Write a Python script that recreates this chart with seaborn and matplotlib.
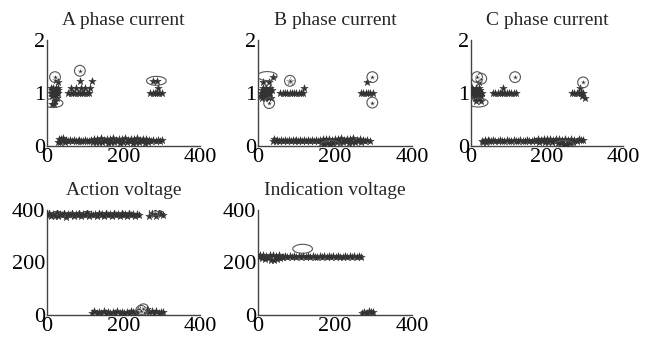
import numpy as np
import pandas as pd
import matplotlib
matplotlib.use("Agg")
import matplotlib.pyplot as plt
from matplotlib.path import Path
import seaborn as sns

# ---------------------------------------------------------------------------
# data (sample index vs. value)
# A phase current
a_x = [10, 14, 18, 22, 26, 30, 12, 20, 28, 10, 16, 24, 30, 14, 22, 18, 26, 20, 24, 28, 14, 18,
       56, 62, 68, 74, 80, 86, 92, 98, 104, 110, 64, 76, 88, 100, 112, 86, 117,
       270, 276, 282, 288, 294, 300, 290, 276, 288]
a_y = [1.0, 1.0, 1.0, 1.0, 1.0, 1.0, 1.05, 1.05, 1.05, 1.1, 1.1, 1.1, 1.1, 0.95, 0.95, 0.9, 0.9,
       0.85, 1.25, 1.2, 0.8, 0.8,
       1.0, 1.0, 1.0, 1.0, 1.0, 1.0, 1.0, 1.0, 1.0, 1.0, 1.1, 1.1, 1.1, 1.1, 1.1, 1.22, 1.22,
       1.0, 1.0, 1.0, 1.0, 1.0, 1.0, 1.1, 1.22, 1.22]
a_band_x = [28, 31, 34, 37, 40, 43, 46, 50, 55, 60, 65, 70, 75, 80, 85, 90, 95, 100, 105, 110,
            115, 120, 124, 128, 132, 136, 140, 144, 148, 152, 156, 160, 164, 168, 172, 176, 180,
            184, 188, 192, 196, 200, 204, 208, 212, 216, 220, 224, 228, 232, 236, 240, 244, 248,
            252, 256, 260, 264, 268, 272, 278, 284, 290, 296, 302]
a_band_y = [0.08, 0.14, 0.07, 0.13, 0.09, 0.15, 0.08, 0.12, 0.09, 0.11, 0.1, 0.11, 0.09, 0.1,
            0.11, 0.1, 0.09, 0.11, 0.1, 0.1, 0.12, 0.08, 0.14, 0.07, 0.13, 0.08, 0.15, 0.07, 0.12,
            0.09, 0.14, 0.06, 0.13, 0.08, 0.15, 0.07, 0.12, 0.09, 0.14, 0.06, 0.13, 0.08, 0.15,
            0.07, 0.12, 0.09, 0.14, 0.06, 0.13, 0.08, 0.15, 0.07, 0.12, 0.09, 0.14, 0.06, 0.13,
            0.08, 0.12, 0.1, 0.11, 0.09, 0.11, 0.1, 0.12]
a_ring_x = [21, 86]
a_ring_y = [1.3, 1.42]
a_oval_x = [16, 286]
a_oval_y = [0.81, 1.23]

# B phase current
b_x = [8, 14, 20, 26, 32, 10, 18, 28, 36, 8, 16, 24, 12, 22, 30, 10, 18, 26, 34, 14, 28, 38,
       58, 64, 70, 76, 82, 88, 94, 100, 106, 112, 118, 83, 119,
       268, 274, 280, 286, 292, 298, 282]
b_y = [1.0, 1.0, 1.0, 1.0, 1.0, 1.05, 1.05, 1.05, 1.05, 0.95, 0.95, 0.95, 1.1, 1.1, 1.1, 0.9,
       0.9, 0.9, 0.9, 1.2, 1.2, 1.3, 1.0, 1.0, 1.0, 1.0, 1.0, 1.0, 1.0, 1.0, 1.0, 1.0, 1.0, 1.23,
       1.1, 1.0, 1.0, 1.0, 1.0, 1.0, 1.0, 1.2]
b_band_x = [38, 42, 46, 50, 55, 60, 65, 70, 75, 80, 85, 90, 95, 100, 105, 110, 115, 120, 125,
            130, 135, 140, 145, 150, 155, 160, 164, 168, 172, 176, 180, 184, 188, 192, 196, 200,
            204, 208, 212, 216, 220, 224, 228, 232, 236, 240, 244, 248, 252, 256, 260, 264, 268,
            272, 278, 284, 290]
b_band_y = [0.1, 0.13, 0.09, 0.12, 0.1, 0.11, 0.09, 0.12, 0.1, 0.11, 0.1, 0.12, 0.09, 0.11,
            0.1, 0.12, 0.09, 0.11, 0.1, 0.12, 0.09, 0.11, 0.1, 0.12, 0.09, 0.11, 0.06, 0.14, 0.04,
            0.13, 0.05, 0.14, 0.03, 0.12, 0.05, 0.14, 0.07, 0.13, 0.08, 0.15, 0.07, 0.12, 0.09,
            0.14, 0.06, 0.13, 0.08, 0.15, 0.07, 0.12, 0.09, 0.14, 0.08, 0.12, 0.1, 0.11, 0.1]
b_ring_x = [83, 29, 297, 297]
b_ring_y = [1.23, 0.81, 1.3, 0.82]
b_oval_x = [24, 188]
b_oval_y = [1.32, 0.02]

# C phase current
c_x = [4, 10, 16, 22, 28, 6, 14, 24, 4, 12, 20, 8, 18, 26, 10, 22, 14, 26, 20,
       58, 64, 70, 76, 82, 88, 94, 100, 106, 112, 118, 84,
       266, 272, 278, 284, 290, 296, 288, 292, 300]
c_y = [1.0, 1.0, 1.0, 1.0, 1.0, 1.05, 1.05, 1.05, 1.1, 1.1, 1.1, 0.95, 0.95, 0.95, 0.9, 0.9,
       0.85, 0.85, 1.2, 1.0, 1.0, 1.0, 1.0, 1.0, 1.0, 1.0, 1.0, 1.0, 1.0, 1.0, 1.1,
       1.0, 1.0, 1.0, 1.0, 1.0, 1.0, 1.1, 0.95, 0.9]
c_band_x = [28, 32, 36, 40, 44, 48, 52, 58, 64, 70, 76, 82, 88, 94, 100, 106, 112, 118, 124,
            130, 136, 142, 148, 154, 160, 166, 172, 176, 180, 184, 188, 192, 196, 200, 204, 208,
            212, 216, 220, 224, 228, 232, 236, 240, 244, 248, 252, 256, 260, 264, 268, 272, 278,
            284, 290, 296]
c_band_y = [0.1, 0.08, 0.12, 0.07, 0.11, 0.09, 0.1, 0.11, 0.1, 0.09, 0.11, 0.1, 0.1, 0.11,
            0.09, 0.1, 0.11, 0.1, 0.1, 0.11, 0.09, 0.1, 0.11, 0.1, 0.09, 0.11, 0.1, 0.14, 0.07,
            0.12, 0.09, 0.14, 0.07, 0.13, 0.08, 0.14, 0.07, 0.12, 0.09, 0.14, 0.06, 0.13, 0.05,
            0.12, 0.04, 0.14, 0.03, 0.12, 0.05, 0.13, 0.08, 0.12, 0.1, 0.13, 0.11, 0.12]
c_ring_x = [16, 27, 116, 295]
c_ring_y = [1.3, 1.27, 1.3, 1.2]
c_oval_x = [19, 245]
c_oval_y = [0.82, 0.02]

# Action voltage
d_x = [0, 5, 10, 15, 20, 25, 30, 35, 40, 45, 50, 55, 60, 65, 70, 75, 80, 85, 90, 95, 100, 105,
       110, 115, 120, 125, 130, 135, 140, 145, 150, 155, 160, 165, 170, 175, 180, 185, 190,
       195, 200, 205, 210, 215, 220, 225, 230, 235, 240, 268, 274, 280, 286, 292, 298, 304,
       118, 124, 130, 136, 142, 148, 154, 160, 166, 172, 178, 184, 190, 196, 202, 208, 214,
       220, 226, 232, 238, 244, 250, 256, 262, 268, 274, 280, 286, 292, 298, 304]
d_y = [380, 390, 375, 385, 378, 392, 376, 386, 380, 388, 374, 384, 381, 390, 376, 385, 379,
       388, 375, 383, 380, 391, 377, 386, 379, 384, 376, 390, 381, 385, 377, 388, 380, 383,
       376, 389, 379, 385, 377, 387, 380, 384, 376, 388, 379, 383, 377, 386, 380,
       378, 390, 384, 376, 392, 386, 380,
       8, 14, 6, 12, 9, 15, 7, 13, 8, 12, 6, 14, 9, 13, 7, 12, 8, 14, 10, 8, 12,
       18, 24, 15, 22, 10, 16, 8, 14, 9, 12, 10]
d_ring_x = [282, 252, 246]
d_ring_y = [398, 22, 16]

# Indication voltage
e_x = [2, 6, 10, 14, 18, 22, 26, 30, 34, 38, 42, 46, 50, 54, 58, 62, 66, 70, 76, 82, 88, 94,
       100, 106, 112, 118, 124, 130, 136, 142, 148, 154, 160, 166, 172, 178, 184, 190, 196,
       202, 208, 214, 220, 226, 232, 238, 244, 250, 256, 262, 268,
       270, 276, 282, 288, 294, 300]
e_y = [222, 228, 216, 230, 214, 226, 218, 230, 208, 228, 210, 226, 212, 228, 216, 222, 220, 224,
       222, 223, 221, 224, 222, 223, 221, 226, 222, 223, 221, 224, 220, 222, 223, 221, 224,
       222, 223, 221, 224, 222, 223, 221, 222, 224, 221, 223, 222, 224, 221, 226, 222,
       8, 12, 6, 14, 10, 12]
e_ring_x = []
e_ring_y = []
e_oval_x = [116]
e_oval_y = [252]

titles = ["A phase current", "B phase current", "C phase current",
          "Action voltage", "Indication voltage"]

# ---------------------------------------------------------------------------
sns.set_style("white")
plt.rcParams["font.family"] = ["Liberation Serif", "DejaVu Serif"]
plt.rcParams["font.size"] = 14

star_col = "#333333"
ring_col = "#555555"
t = np.linspace(0, 2 * np.pi, 60)
oval = Path(np.column_stack([2.2 * np.cos(t), np.sin(t)]))

fig = plt.figure(figsize=(6.49, 3.38), dpi=100)
boxes = [[0.0724, 0.568, 0.2357, 0.3136], [0.3975, 0.568, 0.2373, 0.3136],
         [0.7257, 0.568, 0.2342, 0.3136], [0.0724, 0.068, 0.2357, 0.311],
         [0.3975, 0.068, 0.2373, 0.311]]

panels = [
    (a_x + a_band_x, a_y + a_band_y, a_ring_x, a_ring_y, a_oval_x, a_oval_y, 2),
    (b_x + b_band_x, b_y + b_band_y, b_ring_x, b_ring_y, b_oval_x, b_oval_y, 2),
    (c_x + c_band_x, c_y + c_band_y, c_ring_x, c_ring_y, c_oval_x, c_oval_y, 2),
    (d_x, d_y, d_ring_x, d_ring_y, [], [], 400),
    (e_x, e_y, e_ring_x, e_ring_y, e_oval_x, e_oval_y, 400),
]

for box, title, (sx, sy, rx, ry, ox, oy, ymax) in zip(boxes, titles, panels):
    ax = fig.add_axes(box)
    df = pd.DataFrame({"x": sx, "y": sy})
    sns.scatterplot(data=df, x="x", y="y", marker="*", s=32, color=star_col,
                    edgecolor=star_col, linewidth=0.3, ax=ax, zorder=3)
    if rx:
        sns.scatterplot(x=rx, y=ry, marker="o", s=60, facecolor="none",
                        edgecolor=ring_col, linewidth=0.8, ax=ax, zorder=4)
        sns.scatterplot(x=rx, y=ry, marker="*", s=22, color=star_col, ax=ax, zorder=4)
    if ox:
        sns.scatterplot(x=ox, y=oy, marker=oval, s=200, facecolor="none",
                        edgecolor=ring_col, linewidth=0.8, ax=ax, zorder=4)
    ax.set_xlim(0, 400)
    ax.set_ylim(0, ymax)
    ax.set_xticks([0, 200, 400])
    if ymax == 2:
        ax.set_yticks([0, 1, 2])
    else:
        ax.set_yticks([0, 200, 400])
    ax.set_xlabel("")
    ax.set_ylabel("")
    ax.set_title(title, fontsize=14, pad=11)
    ax.tick_params(direction="in", length=3, width=0.8, pad=1.5, labelsize=16,
                   colors="#333333", labelcolor="black")
    sns.despine(ax=ax)
    for sp in ("left", "bottom"):
        ax.spines[sp].set_color("#444444")
        ax.spines[sp].set_linewidth(1.0)

fig.savefig("out.png", dpi=100)
